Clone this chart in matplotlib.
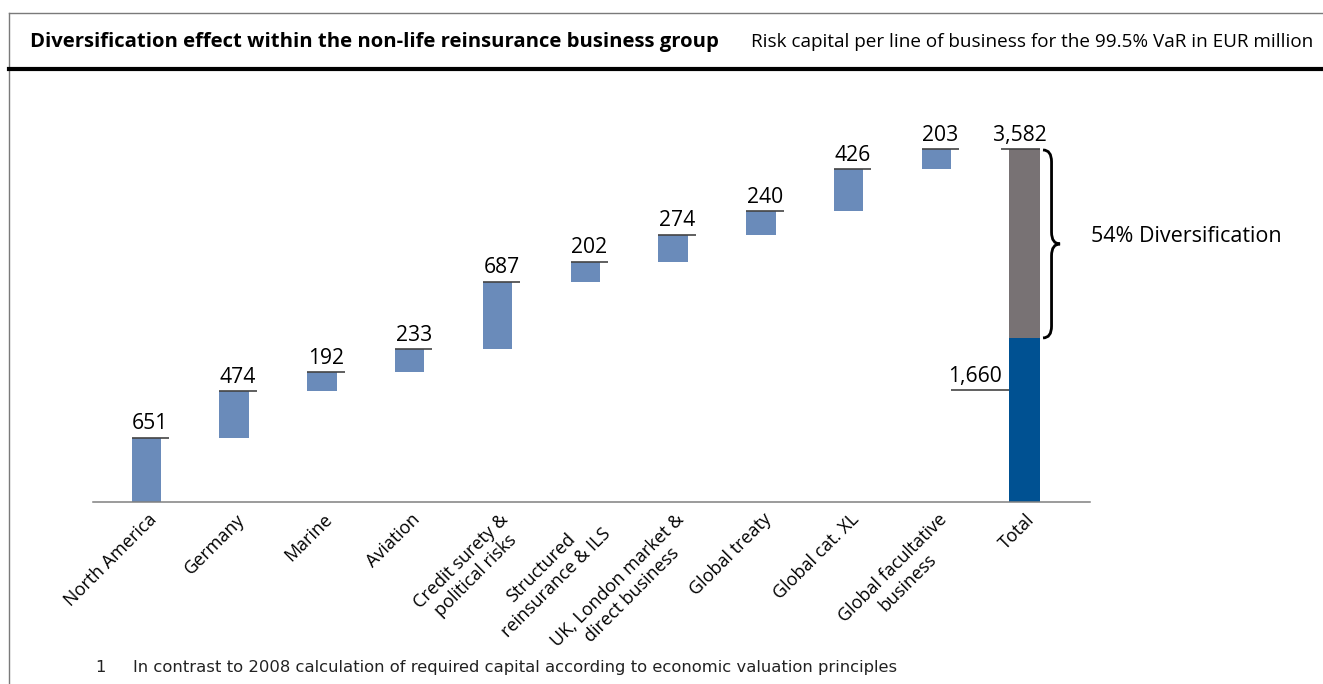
import numpy as np
import matplotlib
matplotlib.use("Agg")
import matplotlib.pyplot as plt
from matplotlib.path import Path
from matplotlib.patches import PathPatch
from matplotlib.lines import Line2D

plt.rcParams["font.family"] = ["Open Sans", "DejaVu Sans"]

# ----- data (EUR million, 99.5% VaR) -----
CATEGORIES = [
    "North America",
    "Germany",
    "Marine",
    "Aviation",
    "Credit surety &\npolitical risks",
    "Structured\nreinsurance & ILS",
    "UK, London market &\ndirect business",
    "Global treaty",
    "Global cat. XL",
    "Global facultative\nbusiness",
]
RISK_CAPITAL = [651, 474, 192, 233, 687, 202, 274, 240, 426, 203]
TOTAL_LABEL = "Total"
DIVERSIFIED_TOTAL = 1660
DIVERSIFICATION_TEXT = "54% Diversification"

TITLE = "Diversification effect within the non-life reinsurance business group"
SUBTITLE = "Risk capital per line of business for the 99.5% VaR in EUR million"
FOOTNOTE_NO = "1"
FOOTNOTE = "In contrast to 2008 calculation of required capital according to economic valuation principles"

# ----- style -----
BAR_BLUE = "#6a8bba"
TOTAL_BLUE = "#005192"
DIV_GREY = "#787274"
AXIS_GREY = "#808080"
BAR_W = 0.335
TOTAL_W = 0.35
VAL_FS = 15.2

W, H = 1323, 684
fig = plt.figure(figsize=(W / 100, H / 100), dpi=100)
fig.patch.set_facecolor("white")


def px(x, y):
    """pixel position (origin top-left) -> figure fraction"""
    return x / W, 1 - y / H


# frame and header rules
fig.add_artist(Line2D([9 / W, 1], [1 - 13 / H] * 2, color="#7a7a7a", lw=1.0))
fig.add_artist(Line2D([9 / W, 9 / W], [0, 1 - 13 / H], color="#7a7a7a", lw=1.0))
fig.add_artist(Line2D([9 / W, 1], [1 - 68.5 / H] * 2, color="black", lw=3.0))

fig.text(*px(30, 42), TITLE, fontsize=14.6, fontweight="bold", ha="left", va="center")
fig.text(*px(1313, 42), SUBTITLE, fontsize=13.6, ha="right", va="center")

fig.text(*px(95, 672), FOOTNOTE_NO, fontsize=11.8, ha="left", va="baseline",
         family="DejaVu Sans", color="#222222")
fig.text(*px(133, 672), FOOTNOTE, fontsize=11.8, ha="left", va="baseline",
         family="DejaVu Sans", color="#222222")

# ----- chart -----
ax = fig.add_axes([93 / W, (H - 502) / H, 997 / W, 394.2 / H])
ax.set_xlim(-0.607, 10.748)
ax.set_ylim(0, 4000)
for side in ("top", "right", "left"):
    ax.spines[side].set_visible(False)
ax.spines["bottom"].set_color(AXIS_GREY)
ax.spines["bottom"].set_linewidth(1.1)
ax.set_xticks([])
ax.set_yticks([])

n = len(RISK_CAPITAL)
xs = np.arange(n)
cum = np.cumsum(RISK_CAPITAL)
bottoms = cum - np.array(RISK_CAPITAL)
total = cum[-1]
xt = n

ax.bar(xs, RISK_CAPITAL, bottom=bottoms, width=BAR_W, color=BAR_BLUE, zorder=2)
ax.bar(xt, DIVERSIFIED_TOTAL, width=TOTAL_W, color=TOTAL_BLUE, zorder=2)
ax.bar(xt, total - DIVERSIFIED_TOTAL, bottom=DIVERSIFIED_TOTAL, width=TOTAL_W,
       color=DIV_GREY, zorder=2)

# value callouts: short rule at the bar top with the number above it
ext = 0.09
for x, top, v in zip(xs, cum, RISK_CAPITAL):
    x0, x1 = x - BAR_W / 2, x + BAR_W / 2 + ext
    ax.plot([x0, x1], [top, top], color="#444444", lw=1.2, solid_capstyle="butt",
            zorder=3, clip_on=False)
    ax.annotate(f"{v:,}", xy=((x0 + x1) / 2, top), xytext=(0, 2.5),
                textcoords="offset points", ha="center", va="bottom", fontsize=VAL_FS,
                annotation_clip=False)

x0, x1 = xt - TOTAL_W / 2 - ext, xt + TOTAL_W / 2
ax.plot([x0, x1], [total, total], color="#444444", lw=1.2, solid_capstyle="butt",
        zorder=3, clip_on=False)
ax.annotate(f"{total:,}", xy=((x0 + x1) / 2, total), xytext=(0, 2.5),
            textcoords="offset points", ha="center", va="bottom", fontsize=VAL_FS,
            annotation_clip=False)

# diversified total callout sits left of the bar, dropped below its top
drop = 525
ly = DIVERSIFIED_TOTAL - drop
x0, x1 = xt - TOTAL_W / 2 - 0.655, xt - TOTAL_W / 2
ax.plot([x0, x1], [ly, ly], color="#444444", lw=1.2, solid_capstyle="butt",
        zorder=3, clip_on=False)
ax.annotate(f"{DIVERSIFIED_TOTAL:,}", xy=(x0 + 0.27, ly), xytext=(0, 2.5),
            textcoords="offset points", ha="center", va="bottom", fontsize=VAL_FS,
            annotation_clip=False)

# curly brace spanning the diversification part
xa, xb, xc = xt + 0.213, xt + 0.31, xt + 0.407
ytop, ybot = total - 10, DIVERSIFIED_TOTAL + 5
ymid = (ytop + ybot) / 2
r = 120
verts = [
    (xa, ytop), (xb, ytop), (xb, ytop - r),
    (xb, ymid + r),
    (xb, ymid), (xc, ymid),
    (xb, ymid), (xb, ymid - r),
    (xb, ybot + r),
    (xb, ybot), (xa, ybot),
]
codes = [Path.MOVETO, Path.CURVE3, Path.CURVE3,
         Path.LINETO,
         Path.CURVE3, Path.CURVE3,
         Path.CURVE3, Path.CURVE3,
         Path.LINETO,
         Path.CURVE3, Path.CURVE3]
ax.add_patch(PathPatch(Path(verts, codes), fill=False, lw=2.0, color="black",
                       clip_on=False, zorder=3))
ax.text(xt + 0.755, ymid + 15, DIVERSIFICATION_TEXT, fontsize=15.5, ha="left",
        va="baseline", clip_on=False)

# rotated category labels
for x, lab in zip(list(xs) + [xt], CATEGORIES + [TOTAL_LABEL]):
    ax.annotate(lab, xy=(x, 0), xytext=(1, -6), textcoords="offset points",
                ha="right", va="top", rotation=45, rotation_mode="anchor",
                multialignment="center", fontsize=13, annotation_clip=False)

fig.savefig("out.png", dpi=100)
